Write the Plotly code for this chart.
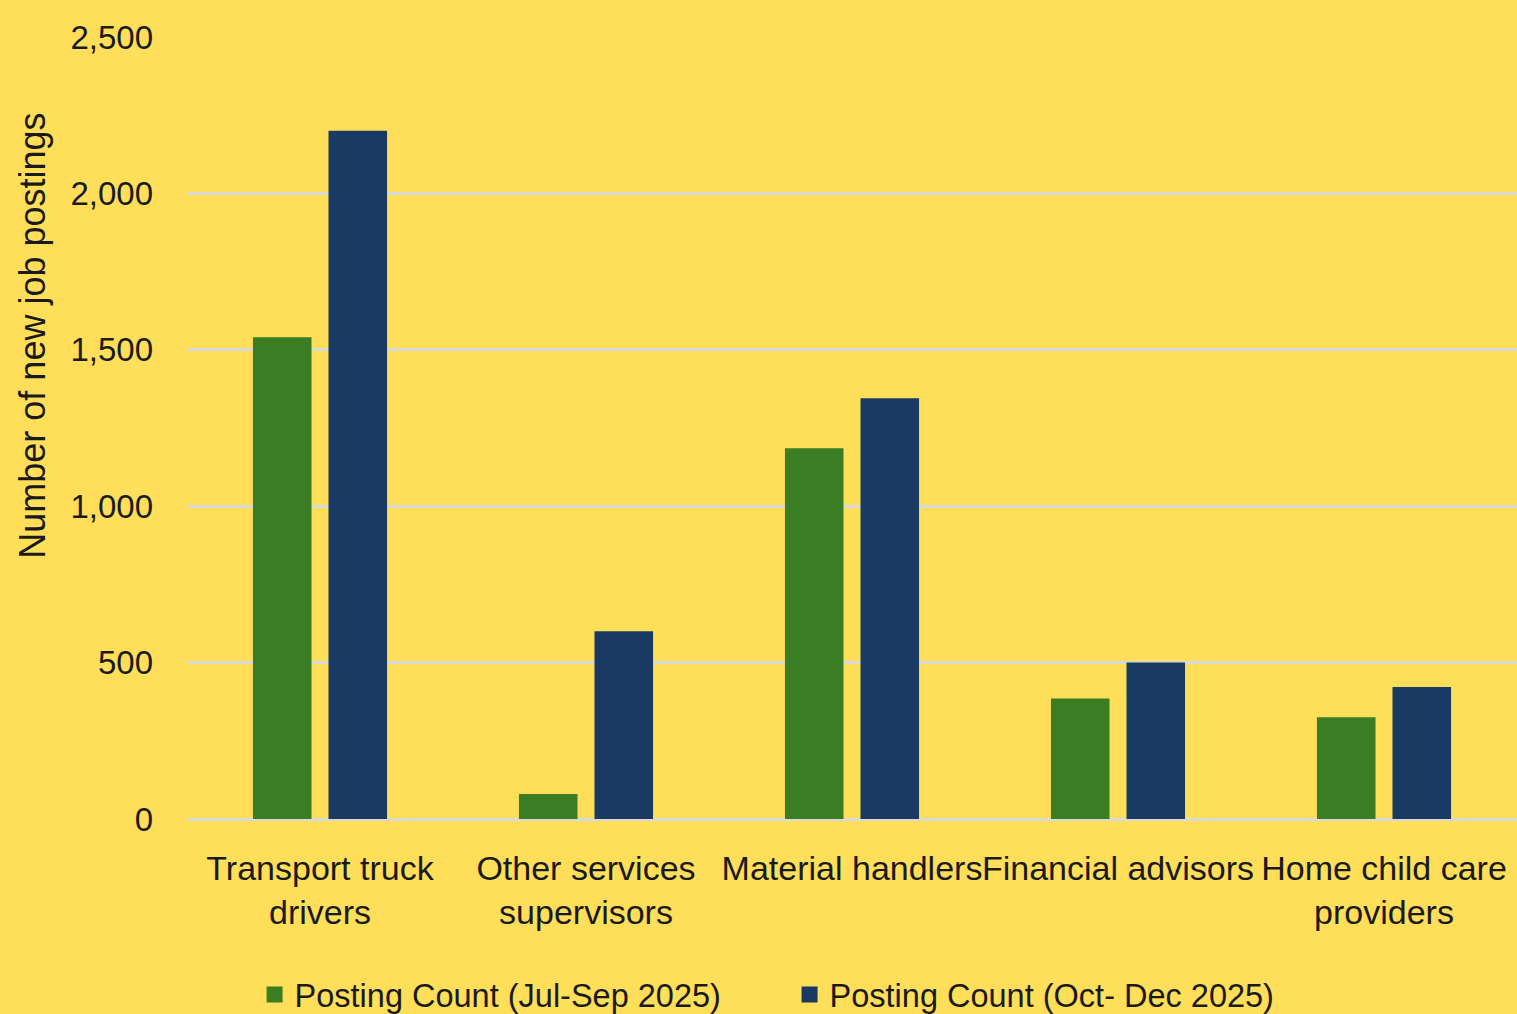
import plotly.graph_objects as go

categories = [
    "Transport truck<br>drivers",
    "Other services<br>supervisors",
    "Material handlers",
    "Financial advisors",
    "Home child care<br>providers",
]
jul_sep_2025 = [1540, 80, 1185, 385, 325]
oct_dec_2025 = [2200, 600, 1345, 500, 422]
series_names = ["Posting Count (Jul-Sep 2025)", "Posting Count (Oct- Dec 2025)"]
y_ticks = [0, 500, 1000, 1500, 2000, 2500]

BG = "#FFDE59"
GREEN = "#3A7D22"
NAVY = "#183A63"
GRID = "#D9D9D9"
SANS = "Liberation Sans, Arial, sans-serif"

fig = go.Figure()
for vals, name, col in [(jul_sep_2025, series_names[0], GREEN), (oct_dec_2025, series_names[1], NAVY)]:
    fig.add_trace(go.Bar(x=categories, y=vals, name=name, marker_color=col,
                         marker_line_width=0, showlegend=False))
    # legend proxy so the swatch can be a larger square
    fig.add_trace(go.Scatter(x=[None], y=[None], mode="markers", name=name,
                             marker=dict(symbol="square", size=16, color=col)))

fig.update_layout(
    width=1517, height=1014,
    paper_bgcolor=BG, plot_bgcolor=BG,
    margin=dict(l=187, r=0, t=37, b=195, autoexpand=False),
    barmode="group", bargap=0.432, bargroupgap=0.225,
    font=dict(family=SANS, color="#1a1a1a"),
    legend=dict(orientation="h", x=0.0508, xanchor="left", y=-0.225, yanchor="middle",
                font=dict(family=SANS, size=32.5), bgcolor="rgba(0,0,0,0)",
                itemwidth=30, entrywidth=490, entrywidthmode="pixels"),
    annotations=[dict(text="Number of new job postings", textangle=-90,
                      xref="paper", yref="paper", x=-0.1158, y=0.618,
                      xanchor="center", yanchor="middle", showarrow=False,
                      font=dict(family=SANS, size=36))],
)
fig.update_xaxes(
    showgrid=False, showline=False, ticks="", tickfont=dict(family=SANS, size=34),
    tickangle=0, ticklabelstandoff=26,
)
fig.update_yaxes(
    range=[0, 2500], tickvals=y_ticks, tickformat=",", showgrid=True, gridcolor=GRID,
    gridwidth=3, zeroline=True, zerolinecolor=GRID, zerolinewidth=3, showline=False,
    tickfont=dict(family=SANS, size=33), ticklabelstandoff=33,
)

fig.write_html("out.html", config={"displayModeBar": False},
               post_script="document.body.style.margin='0';document.body.style.background='#FFDE59';")
